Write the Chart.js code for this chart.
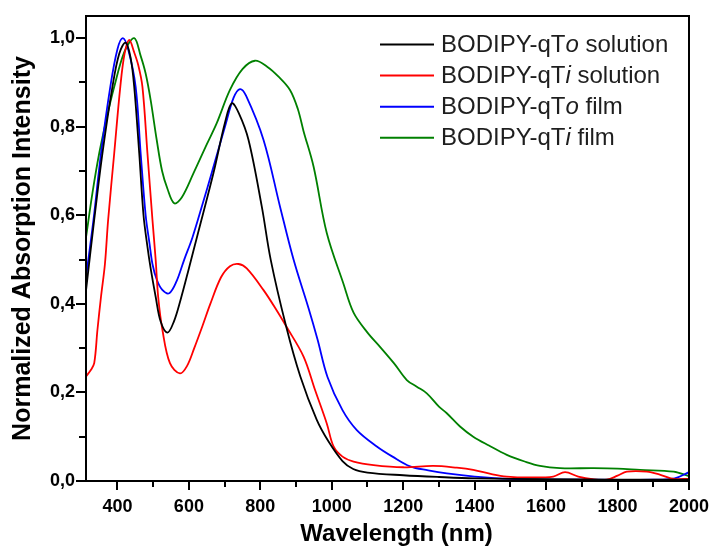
<!DOCTYPE html>
<html>
<head>
<meta charset="utf-8">
<script src="https://cdn.jsdelivr.net/npm/chart.js@4/dist/chart.umd.min.js"></script>
<style>
  body { margin: 0; background: #fff; }
  canvas { display: block; }
</style>
</head>
<body>
<canvas id="absChart" width="709" height="546"></canvas>
<script>
// normalized absorption spectra, wavelength in nm
var qToSolutionNm  = [312, 335, 358, 386, 405, 423, 437, 447, 461, 473, 483, 493, 507, 521, 540, 558, 577, 600, 624, 669, 701, 720, 740, 767, 804, 829, 872, 912, 958, 991, 1030, 1060, 1100, 1200, 1300, 1400, 1600, 1800, 2000];
var qToSolutionAbs = [0.43, 0.59, 0.74, 0.89, 0.965, 0.99, 0.955, 0.89, 0.74, 0.60, 0.535, 0.48, 0.416, 0.36, 0.335, 0.36, 0.41, 0.48, 0.555, 0.696, 0.809, 0.853, 0.83, 0.77, 0.62, 0.50, 0.35, 0.236, 0.138, 0.089, 0.045, 0.027, 0.019, 0.013, 0.009, 0.006, 0.004, 0.003, 0.003];

var qTiSolutionNm  = [312, 325, 335, 344, 354, 365, 374, 391, 408, 420, 433, 446, 458, 470, 484, 498, 507, 514, 526, 547, 575, 595, 615, 638, 660, 690, 715, 739, 762, 809, 846, 872, 921, 953, 986, 1005, 1030, 1061, 1117, 1200, 1284, 1350, 1396, 1450, 1490, 1550, 1620, 1653, 1690, 1730, 1770, 1800, 1826, 1882, 1920, 1956, 2000];
var qTiSolutionAbs = [0.236, 0.25, 0.266, 0.341, 0.416, 0.49, 0.59, 0.74, 0.89, 0.965, 0.996, 0.97, 0.94, 0.89, 0.74, 0.59, 0.50, 0.416, 0.341, 0.266, 0.243, 0.26, 0.30, 0.35, 0.40, 0.46, 0.485, 0.49, 0.48, 0.431, 0.385, 0.35, 0.281, 0.206, 0.13, 0.078, 0.055, 0.044, 0.036, 0.031, 0.034, 0.03, 0.025, 0.015, 0.01, 0.008, 0.01, 0.02, 0.01, 0.004, 0.003, 0.012, 0.021, 0.021, 0.014, 0.005, 0.005];

var qToFilmNm  = [312, 333, 354, 380, 400, 415, 430, 451, 465, 479, 490, 498, 510, 525, 545, 565, 587, 610, 640, 664, 701, 725, 743, 760, 809, 855, 893, 935, 960, 988, 1030, 1070, 1126, 1170, 1219, 1270, 1322, 1400, 1500, 1700, 1900, 1960, 2000];
var qToFilmAbs = [0.46, 0.59, 0.74, 0.89, 0.975, 1.0, 0.975, 0.89, 0.74, 0.60, 0.535, 0.49, 0.455, 0.432, 0.424, 0.45, 0.50, 0.55, 0.63, 0.696, 0.80, 0.865, 0.885, 0.87, 0.77, 0.62, 0.50, 0.39, 0.32, 0.235, 0.16, 0.115, 0.078, 0.055, 0.033, 0.024, 0.017, 0.01, 0.005, 0.003, 0.003, 0.006, 0.02];

var qTiFilmNm  = [312, 330, 349, 370, 391, 420, 447, 465, 479, 493, 510, 525, 540, 559, 580, 613, 650, 678, 715, 750, 785, 820, 851, 883, 905, 921, 949, 986, 1032, 1061, 1100, 1135, 1175, 1210, 1238, 1266, 1300, 1322, 1359, 1396, 1440, 1490, 1540, 1583, 1639, 1733, 1800, 1863, 1957, 2000];
var qTiFilmAbs = [0.55, 0.65, 0.74, 0.82, 0.89, 0.97, 1.0, 0.96, 0.92, 0.86, 0.77, 0.70, 0.66, 0.627, 0.64, 0.695, 0.76, 0.808, 0.883, 0.93, 0.949, 0.935, 0.913, 0.883, 0.84, 0.79, 0.71, 0.56, 0.447, 0.38, 0.335, 0.303, 0.265, 0.228, 0.213, 0.198, 0.168, 0.153, 0.123, 0.10, 0.08, 0.059, 0.044, 0.034, 0.029, 0.029, 0.028, 0.025, 0.021, 0.011];

// legend text split as [plain, italic, plain]
var legendParts = [
  ['BODIPY-qT', 'o', ' solution'],
  ['BODIPY-qT', 'i', ' solution'],
  ['BODIPY-qT', 'o', ' film'],
  ['BODIPY-qT', 'i', ' film']
];
var seriesColors = ['#000000', '#ff0000', '#0000ff', '#008000'];

var xTickValues = [400, 600, 800, 1000, 1200, 1400, 1600, 1800, 2000];
var yTickValues = [0, 0.2, 0.4, 0.6, 0.8, 1.0];
var xAxisTitle = 'Wavelength (nm)';

var FONT = '"Liberation Sans", Arial, sans-serif';

function toPoints(nm, abs) {
  return nm.map(function (x, i) { return { x: x, y: abs[i] }; });
}

var seriesData = [
  toPoints(qToSolutionNm, qToSolutionAbs),
  toPoints(qTiSolutionNm, qTiSolutionAbs),
  toPoints(qToFilmNm, qToFilmAbs),
  toPoints(qTiFilmNm, qTiFilmAbs)
];

// frame, outward major/minor ticks, x title and the legend with italic letters
var framePlugin = {
  id: 'frame',
  afterDatasetsDraw: function (chart) {
    var ctx = chart.ctx;
    var a = chart.chartArea;
    var xs = chart.scales.x, ys = chart.scales.y;
    ctx.save();
    ctx.strokeStyle = '#000';
    ctx.lineWidth = 2;
    ctx.strokeRect(a.left, a.top, a.right - a.left, a.bottom - a.top);

    ctx.beginPath();
    for (var v = 400; v <= 2000; v += 100) {
      var px = Math.round(xs.getPixelForValue(v));
      var len = v % 200 === 0 ? 9 : 6;
      ctx.moveTo(px, a.bottom);
      ctx.lineTo(px, a.bottom + len);
    }
    for (var k = 0; k <= 10; k++) {
      var py = Math.round(ys.getPixelForValue(k / 10));
      var l = k % 2 === 0 ? 10 : 7;
      ctx.moveTo(a.left, py);
      ctx.lineTo(a.left - l, py);
    }
    ctx.stroke();

    // x axis title, sits a bit right of the plot centre
    ctx.fillStyle = '#000';
    ctx.font = 'bold 24px ' + FONT;
    ctx.textAlign = 'center';
    ctx.textBaseline = 'alphabetic';
    ctx.fillText(xAxisTitle, (a.left + a.right) / 2 + 9, 541);

    // legend
    var rowY = 44.5;
    ctx.textAlign = 'left';
    ctx.textBaseline = 'middle';
    legendParts.forEach(function (parts, i) {
      var y = rowY + i * 31.1;
      ctx.strokeStyle = seriesColors[i];
      ctx.lineWidth = 2;
      ctx.beginPath();
      ctx.moveTo(380, y);
      ctx.lineTo(434, y);
      ctx.stroke();
      var x = 441;
      ctx.fillStyle = '#1e1e1e';
      parts.forEach(function (txt, j) {
        ctx.font = (j === 1 ? 'italic ' : '') + '24px ' + FONT;
        ctx.fillText(txt, x, y + 1);
        x += ctx.measureText(txt).width;
      });
    });
    ctx.restore();
  }
};

var ctx = document.getElementById('absChart').getContext('2d');

new Chart(ctx, {
  type: 'line',
  data: {
    datasets: seriesData.map(function (pts, i) {
      return {
        label: legendParts[i].join(''),
        data: pts,
        borderColor: seriesColors[i],
        borderWidth: 1.8,
        pointRadius: 0,
        fill: false,
        tension: 0.35
      };
    })
  },
  options: {
    responsive: false,
    animation: false,
    layout: { padding: { top: 16, right: 20, left: 0, bottom: 0 } },
    plugins: {
      legend: { display: false },
      tooltip: { enabled: false }
    },
    scales: {
      x: {
        type: 'linear',
        min: 312,
        max: 2000,
        afterBuildTicks: function (scale) {
          scale.ticks = xTickValues.map(function (v) { return { value: v }; });
        },
        afterFit: function (scale) {
          scale.height = 65;
          scale.paddingLeft = 0;
          scale.paddingRight = 0;
        },
        grid: { drawOnChartArea: false, drawTicks: false },
        border: { display: false },
        ticks: {
          padding: 15,
          maxRotation: 0,
          autoSkip: false,
          color: '#000',
          font: { family: FONT, size: 18, weight: 'bold' },
          callback: function (v) { return String(v); }
        },
        title: { display: false }
      },
      y: {
        min: 0,
        max: 1.05,
        afterBuildTicks: function (scale) {
          scale.ticks = yTickValues.map(function (v) { return { value: v }; });
        },
        afterFit: function (scale) {
          scale.width = 86;
          scale.paddingTop = 0;
          scale.paddingBottom = 0;
        },
        grid: { drawOnChartArea: false, drawTicks: false },
        border: { display: false },
        ticks: {
          padding: 11,
          color: '#000',
          font: { family: FONT, size: 18, weight: 'bold' },
          callback: function (v) { return v.toFixed(1).replace('.', ','); }
        },
        title: {
          display: true,
          text: 'Normalized Absorption Intensity',
          color: '#000',
          font: { family: FONT, size: 25, weight: 'bold' },
          padding: { top: 8, bottom: 0 }
        }
      }
    }
  },
  plugins: [framePlugin]
});
</script>
</body>
</html>
